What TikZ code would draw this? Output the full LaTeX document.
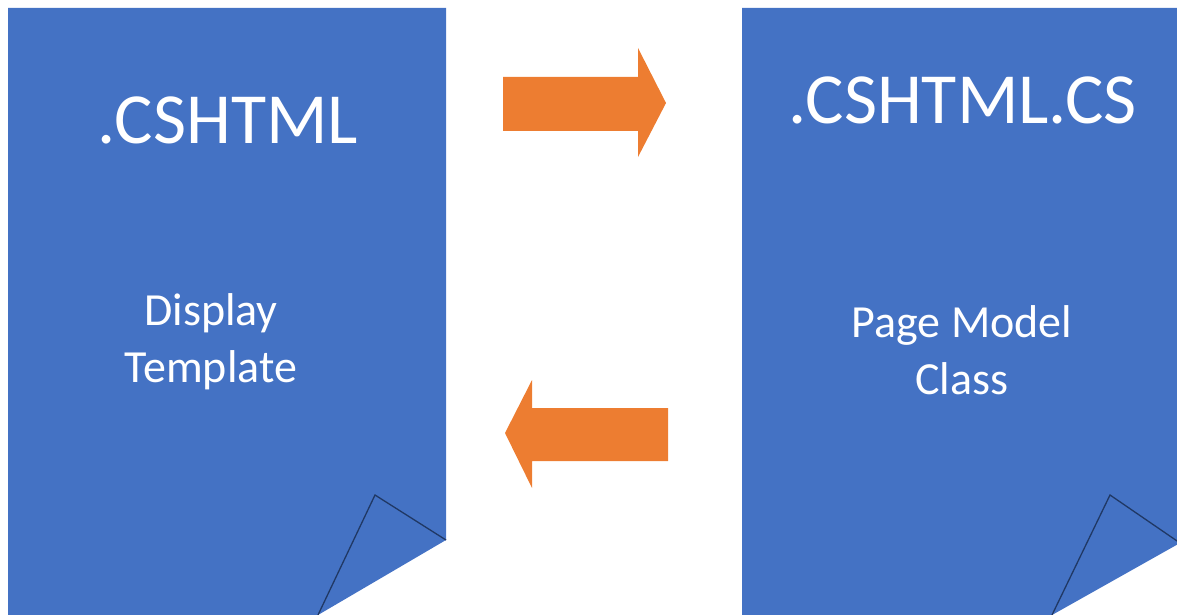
\documentclass[tikz,border=0pt]{standalone}
\usepackage{fontspec}
\setmainfont{Carlito}
\definecolor{docblue}{HTML}{4472C4}
\definecolor{foldblue}{HTML}{203864}
\definecolor{arroworange}{HTML}{ED7D31}
\tikzset{
  docshape/.style={fill=docblue, draw=none},
  foldline/.style={draw=foldblue, line width=1.3pt, line join=miter},
  blockarrow/.style={fill=arroworange, draw=none},
  title/.style={text=white, font=\fontsize{72}{80}\selectfont, inner sep=0pt, anchor=center},
  caption/.style={text=white, font=\fontsize{46}{57}\selectfont, align=center, inner sep=0pt, anchor=center}
}
\begin{document}
\begin{tikzpicture}[x=1pt, y=-1pt]
  \useasboundingbox (0,0) rectangle (1177,615);
  \clip (0,0) rectangle (1177,615);
  % left page with folded corner
  \fill[docshape] (8,8) -- (446,8) -- (446,540) -- (318,615) -- (8,615) -- cycle;
  \draw[foldline] (446,540) -- (375,495) -- (318,615);
  % right page with folded corner
  \fill[docshape] (742,8) -- (1180,8) -- (1180,543) -- (1052,615) -- (742,615) -- cycle;
  \draw[foldline] (1180,543) -- (1110,495) -- (1052,615);
  % block arrows between the pages
  \fill[blockarrow] (503,77) -- (638,77) -- (638,48) -- (666,103) -- (638,157) -- (638,131) -- (503,131) -- cycle;
  \fill[blockarrow] (668,408) -- (532,408) -- (532,380) -- (505,433) -- (532,488) -- (532,461) -- (668,461) -- cycle;
  % labels
  \node[title] (lefttitle) at (228,120) {.CSHTML};
  \node[caption] (leftcaption) at (211,342) {Display\\Template};
  \node[title] (righttitle) at (963,100) {.CSHTML.CS};
  \node[caption] (rightcaption) at (962,350) {Page Model\\Class};
\end{tikzpicture}
\end{document}
